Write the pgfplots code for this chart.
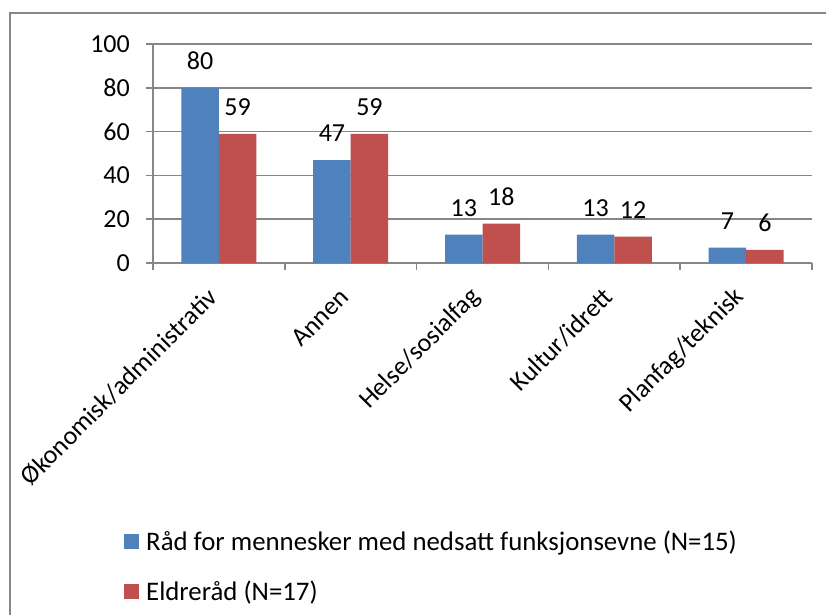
\documentclass[border=0pt]{standalone}
\usepackage{pgfplots}
\pgfplotsset{compat=1.18}
\usepackage{fontspec}
\setmainfont{Carlito}
\definecolor{blueS}{RGB}{79,129,189}
\definecolor{redS}{RGB}{192,80,77}
\definecolor{gridc}{RGB}{134,134,134}
\newcommand{\cf}{\fontsize{26bp}{31bp}\selectfont}
\newcommand{\lf}{\fontsize{26.8bp}{32bp}\selectfont}
\begin{document}
\begin{tikzpicture}
\useasboundingbox (0bp,0bp) rectangle (826bp,-615bp);
\draw[gridc, line width=2bp] (10bp,-615bp) -- (10bp,-13bp) -- (826bp,-13bp);
\begin{axis}[
  at={(153bp,-263bp)}, anchor=south west,
  scale only axis, width=659bp, height=219bp,
  /pgf/number format/assume math mode=true,
  ybar=0pt, bar width=37.5bp,
  xmin=-0.5, xmax=4.5, ymin=0, ymax=100,
  xtick={0,1,2,3,4},
  xticklabels={Økonomisk/administrativ,Annen,Helse/sosialfag,Kultur/idrett,Planfag/teknisk},
  minor xtick={-0.5,0.5,1.5,2.5,3.5,4.5},
  ytick={0,20,40,60,80,100},
  axis x line*=bottom, axis y line*=left,
  axis line style={gridc, line width=1.5bp, -},
  ymajorgrids, grid style={gridc, line width=1.5bp},
  major tick length=7bp, minor tick length=7bp, tick align=outside,
  major x tick style={draw=none},
  minor x tick style={gridc, line width=1.5bp},
  y tick style={gridc, line width=1.5bp},
  tick label style={font=\cf, black},
  yticklabel style={anchor=east, inner sep=0pt, xshift=-16bp},
  xticklabel style={xshift=-6bp, yshift=-23bp, rotate=45, anchor=east, inner sep=0pt},
  nodes near coords,
  every node near coord/.append style={font=\cf, black, anchor=south, inner sep=0pt, yshift=18bp},
  legend image code/.code={\fill[#1, draw=none] (0bp,-7.5bp) rectangle (15bp,7.5bp);},
  legend style={draw=none, fill=none, font=\lf, inner sep=0pt, row sep=29bp,
    nodes={inner sep=0pt},
    /tikz/every odd column/.append style={column sep=7bp},
    at={(-0.0440,-1.224)}, anchor=north west},
  legend cell align=left,
]
\addplot[fill=blueS, draw=none] coordinates {(0,80) (1,47) (2,13) (3,13) (4,7)};
\addplot[fill=redS, draw=none] coordinates {(0,59) (1,59) (2,18) (3,12) (4,6)};
\legend{Råd for mennesker med nedsatt funksjonsevne (N=15), Eldreråd (N=17)}
\end{axis}
\end{tikzpicture}
\end{document}
